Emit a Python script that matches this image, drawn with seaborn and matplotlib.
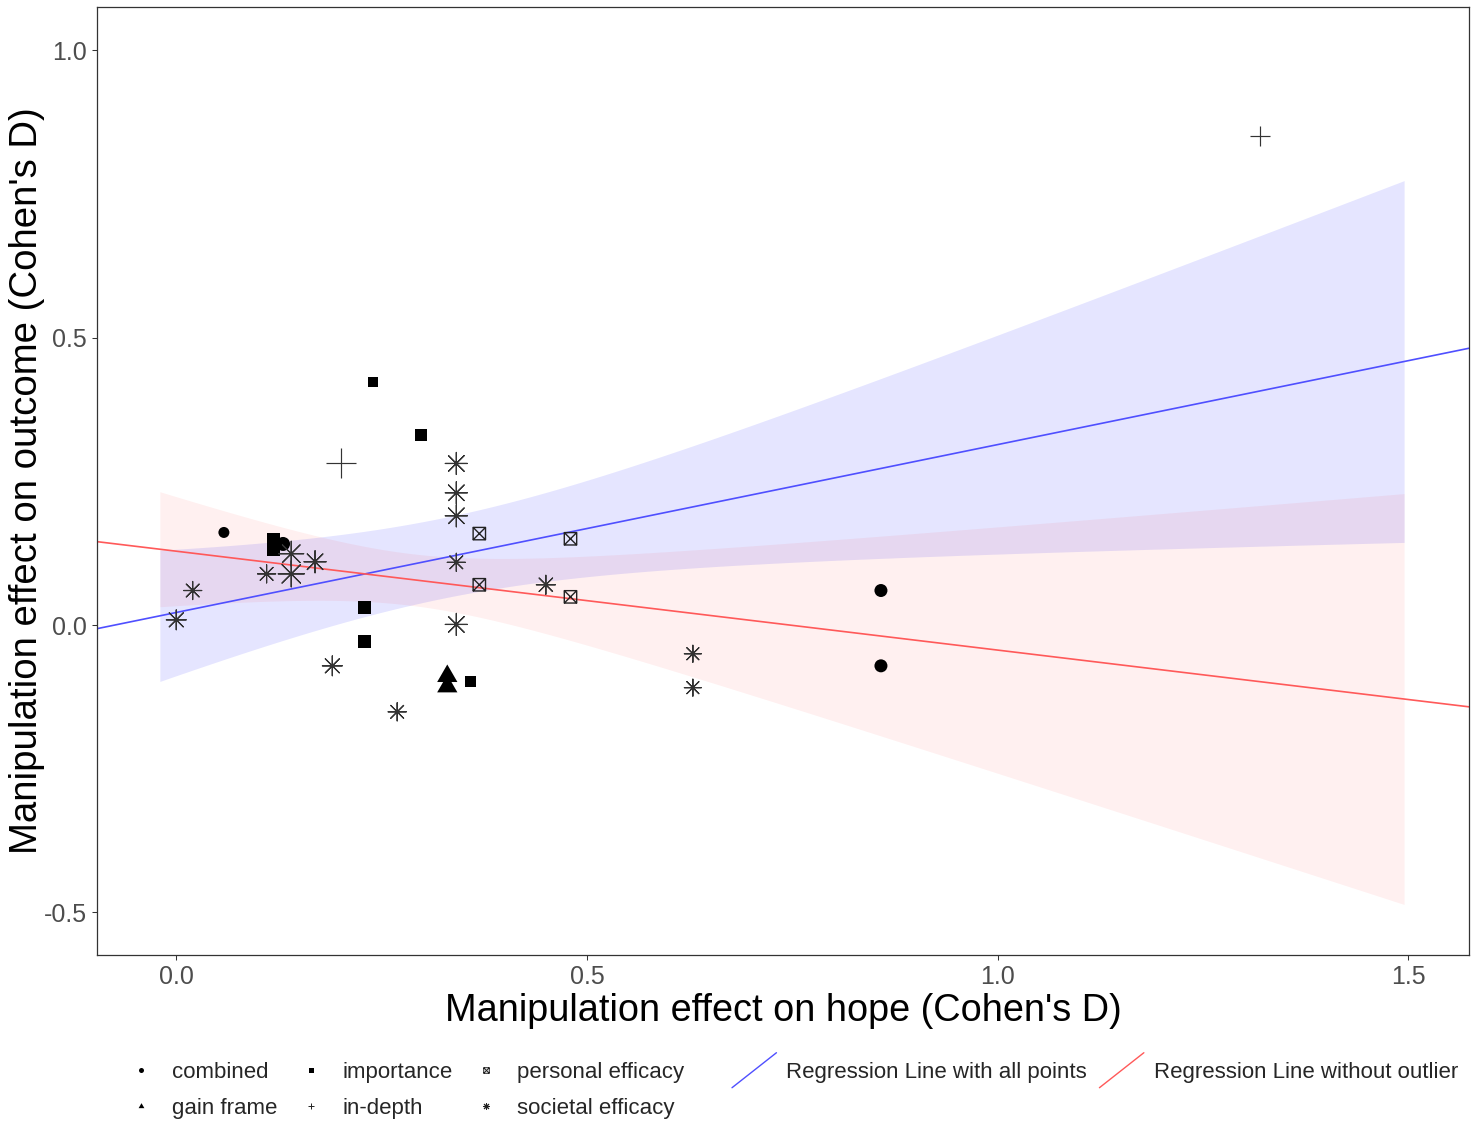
import numpy as np
import pandas as pd
import matplotlib
matplotlib.use("Agg")
import matplotlib.pyplot as plt
import seaborn as sns
from matplotlib.path import Path
from matplotlib.lines import Line2D
from matplotlib.legend_handler import HandlerBase

# ---------------- data ----------------
categories = ["combined", "gain frame", "importance", "in-depth",
              "personal efficacy", "societal efficacy"]

combined_x = [0.058, 0.130, 0.858, 0.858]
combined_y = [0.161, 0.141, 0.060, -0.071]
combined_n = [5.5, 7.0, 6.5, 6.5]

gain_x = [0.330, 0.330]
gain_y = [-0.089, -0.107]
gain_n = [6.0, 6.0]

importance_x = [0.239, 0.298, 0.119, 0.119, 0.229, 0.229, 0.358]
importance_y = [0.422, 0.331, 0.149, 0.131, 0.030, -0.029, -0.099]
importance_n = [5.0, 6.0, 6.5, 6.5, 6.5, 6.5, 5.5]

indepth_x = [0.200, 1.320]
indepth_y = [0.281, 0.850]
indepth_n = [10.6, 7.0]

personal_x = [0.369, 0.369, 0.480, 0.480]
personal_y = [0.159, 0.070, 0.150, 0.049]
personal_n = [7.0, 7.0, 7.0, 7.0]

societal_x = [0.000, 0.020, 0.110, 0.140, 0.140, 0.169, 0.190, 0.269,
              0.341, 0.341, 0.341, 0.341, 0.341, 0.450, 0.629, 0.629]
societal_y = [0.009, 0.060, 0.089, 0.124, 0.089, 0.110, -0.071, -0.151,
              0.281, 0.230, 0.190, 0.109, 0.001, 0.070, -0.050, -0.109]
societal_n = [7.0, 6.4, 6.4, 8.8, 9.2, 7.8, 7.0, 6.4,
              7.8, 7.8, 7.8, 6.4, 7.8, 6.7, 6.0, 6.0]

# regression fits (line + confidence band parameters)
fit_labels = ["Regression Line with all points", "Regression Line without outlier"]
fit_intercept = [0.0218, 0.1284]
fit_slope = [0.292, -0.172]
ci_center = [0.324, 0.285]
ci_half_min = [0.070, 0.045]
ci_half_slope = [0.262, 0.293]
ci_range = [-0.02, 1.495]

x_ticks = [0.0, 0.5, 1.0, 1.5]
x_tick_labels = ["0.0", "0.5", "1.0", "1.5"]
y_ticks = [-0.5, 0.0, 0.5, 1.0]
y_tick_labels = ["-0.5", "0.0", "0.5", "1.0"]

frames = []
for cat, xs, ys, ns in [
    ("combined", combined_x, combined_y, combined_n),
    ("gain frame", gain_x, gain_y, gain_n),
    ("importance", importance_x, importance_y, importance_n),
    ("in-depth", indepth_x, indepth_y, indepth_n),
    ("personal efficacy", personal_x, personal_y, personal_n),
    ("societal efficacy", societal_x, societal_y, societal_n),
]:
    frames.append(pd.DataFrame({"hope": xs, "outcome": ys, "n": ns, "type": cat}))
df = pd.concat(frames, ignore_index=True)

# ---------------- styles ----------------
tri = Path([(0, 1.0), (-0.866, -0.5), (0.866, -0.5), (0, 1.0)],
           [Path.MOVETO, Path.LINETO, Path.LINETO, Path.CLOSEPOLY])
boxcross = Path([(-1, -1), (1, -1), (1, 1), (-1, 1), (-1, -1),
                 (-1, -1), (1, 1), (-1, 1), (1, -1)],
                [Path.MOVETO, Path.LINETO, Path.LINETO, Path.LINETO, Path.CLOSEPOLY,
                 Path.MOVETO, Path.LINETO, Path.MOVETO, Path.LINETO])
marker_style = {
    "combined": dict(marker="o", factor=2.0, filled=True),
    "gain frame": dict(marker=tri, factor=3.9, filled=True),
    "importance": dict(marker="s", factor=2.0, filled=True),
    "in-depth": dict(marker="+", factor=2.83, filled=False),
    "personal efficacy": dict(marker=boxcross, factor=1.77, filled="hollow"),
    "societal efficacy": dict(marker=(8, 2, 0), factor=2.83, filled=False),
}
fit_colors = ["#4F4FFF", "#FF5959"]
band_colors = ["#0000FF", "#FF0000"]
band_alpha = [0.10, 0.06]
line_marker_color = "#333333"

sns.set_theme(style="white")
plt.rcParams["font.family"] = ["Liberation Sans", "DejaVu Sans"]

W, H = 1477, 1125
fig = plt.figure(figsize=(W / 100, H / 100), dpi=100)
ax = fig.add_axes([97 / W, 1 - 955 / H, (1469 - 97) / W, (955 - 7) / H])

# confidence bands
xb = np.linspace(ci_range[0], ci_range[1], 300)
for i in range(2):
    fit = fit_intercept[i] + fit_slope[i] * xb
    half = np.sqrt(ci_half_min[i] ** 2 + (ci_half_slope[i] * (xb - ci_center[i])) ** 2)
    ax.fill_between(xb, fit - half, fit + half, color=band_colors[i],
                    alpha=band_alpha[i], linewidth=0, zorder=1)
# regression lines across full panel
for i in range(2):
    ax.axline((0, fit_intercept[i]), slope=fit_slope[i], color=fit_colors[i], lw=1.2, zorder=2)

px2pt = 0.72
for cat in categories:
    st = marker_style[cat]
    sub = df[df["type"] == cat]
    s = (np.asarray(sub["n"]) * st["factor"] * px2pt) ** 2
    if st["filled"] is True:
        sns.scatterplot(data=sub, x="hope", y="outcome", marker=st["marker"], s=s,
                        color="black", edgecolor="black", linewidth=0, legend=False, ax=ax, zorder=3)
    elif st["filled"] == "hollow":
        sns.scatterplot(data=sub, x="hope", y="outcome", marker=st["marker"], s=s,
                        facecolor="none", edgecolor="#222222", linewidth=1.0, legend=False, ax=ax, zorder=3)
    else:
        sns.scatterplot(data=sub, x="hope", y="outcome", marker=st["marker"], s=s,
                        color=line_marker_color, linewidth=0.85, legend=False, ax=ax, zorder=3)

ax.set_xlim(-0.0965, 1.574)
ax.set_ylim(-0.574, 1.075)
ax.set_xticks(x_ticks)
ax.set_xticklabels(x_tick_labels)
ax.set_yticks(y_ticks)
ax.set_yticklabels(y_tick_labels)
ax.tick_params(axis="both", which="major", length=3.6, width=0.75, color="#333333",
               labelcolor="#4D4D4D", labelsize=18, pad=3.6, bottom=True, left=True)
for sp in ax.spines.values():
    sp.set_color("#333333")
    sp.set_linewidth(0.9)
ax.grid(False)

ax.set_xlabel("Manipulation effect on hope (Cohen's D)", fontsize=27.3, color="black")
ax.set_ylabel("Manipulation effect on outcome (Cohen's D)", fontsize=27.6, color="black")
ax.xaxis.set_label_coords(0.5, -0.040)
ax.yaxis.set_label_coords(-0.0379, 0.5)

# ---------------- legends ----------------
leg_order = ["combined", "gain frame", "importance", "in-depth",
             "personal efficacy", "societal efficacy"]
leg_ms = {"combined": 3.6, "gain frame": 4.8, "importance": 3.6, "in-depth": 5.0,
          "personal efficacy": 4.0, "societal efficacy": 5.0}
handles = []
for cat in leg_order:
    st = marker_style[cat]
    if st["filled"] is True:
        h = Line2D([], [], linestyle="none", marker=st["marker"], markersize=leg_ms[cat],
                   markerfacecolor="black", markeredgecolor="black", markeredgewidth=0)
    elif st["filled"] == "hollow":
        h = Line2D([], [], linestyle="none", marker=st["marker"], markersize=leg_ms[cat],
                   markerfacecolor="none", markeredgecolor="#222222", markeredgewidth=0.7)
    else:
        h = Line2D([], [], linestyle="none", marker=st["marker"], markersize=leg_ms[cat],
                   color="#222222", markeredgewidth=0.7)
    handles.append(h)

fig.legend(handles, leg_order, ncol=3, loc="upper left", bbox_to_anchor=(130 / W, 1 - 1062 / H),
           frameon=False, fontsize=16, handlelength=1.0, handletextpad=0.9,
           columnspacing=1.0, labelspacing=0.68, borderpad=0, borderaxespad=0)


class DiagHandler(HandlerBase):
    def create_artists(self, legend, orig_handle, xdescent, ydescent, width, height, fontsize, trans):
        x0, y0 = -xdescent, -ydescent
        cy = y0 + height / 2
        dy = 1.125 * height
        ln = Line2D([x0, x0 + width], [cy - dy, cy + dy], color=orig_handle.get_color(),
                    lw=1.0, transform=trans)
        return [ln]


line_handles = [Line2D([], [], color=c) for c in fit_colors]
fig.legend(line_handles, fit_labels, ncol=2, loc="upper left", bbox_to_anchor=(732 / W, 1 - 1062 / H),
           frameon=False, fontsize=16, handlelength=2.0, handletextpad=0.45,
           columnspacing=0.55, borderpad=0, borderaxespad=0,
           handler_map={Line2D: DiagHandler()})

fig.savefig("out.png", dpi=100)
